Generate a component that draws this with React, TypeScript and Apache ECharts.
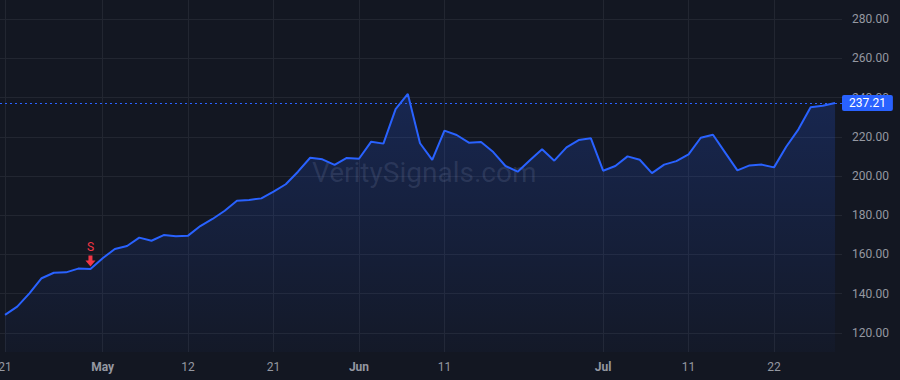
import React, { useEffect, useRef } from "react";
import * as echarts from "echarts";

const dates: string[] = [
  "2025-04-21", "2025-04-22", "2025-04-23", "2025-04-24", "2025-04-25", "2025-04-28", "2025-04-29", "2025-04-30",
  "2025-05-01", "2025-05-02", "2025-05-05", "2025-05-06", "2025-05-07", "2025-05-08", "2025-05-09",
  "2025-05-12", "2025-05-13", "2025-05-14", "2025-05-15", "2025-05-16",
  "2025-05-19", "2025-05-20", "2025-05-21", "2025-05-22", "2025-05-23",
  "2025-05-27", "2025-05-28", "2025-05-29", "2025-05-30",
  "2025-06-02", "2025-06-03", "2025-06-04", "2025-06-05", "2025-06-06",
  "2025-06-09", "2025-06-10", "2025-06-11", "2025-06-12", "2025-06-13",
  "2025-06-16", "2025-06-17", "2025-06-18", "2025-06-20",
  "2025-06-23", "2025-06-24", "2025-06-25", "2025-06-26", "2025-06-27", "2025-06-30",
  "2025-07-01", "2025-07-02", "2025-07-03",
  "2025-07-07", "2025-07-08", "2025-07-09", "2025-07-10", "2025-07-11",
  "2025-07-14", "2025-07-15", "2025-07-16", "2025-07-17", "2025-07-18",
  "2025-07-21", "2025-07-22", "2025-07-23", "2025-07-24", "2025-07-25",
  "2025-07-28", "2025-07-29",
];

const prices: number[] = [
  129.2, 133.4, 140.2, 147.9, 150.7, 150.9, 152.8, 152.6,
  158.1, 162.8, 164.3, 168.6, 167.0, 169.9, 169.3,
  169.6, 174.5, 178.1, 182.3, 187.4,
  187.8, 188.6, 192.0, 195.8, 202.2,
  209.3, 208.5, 205.7, 209.2,
  208.8, 217.5, 216.5, 234.1, 241.8,
  216.7, 208.2, 223.1, 220.9, 217.0,
  217.3, 212.2, 205.1, 202.2,
  208.0, 213.6, 207.8, 214.6, 218.3, 219.2,
  202.7, 205.1, 210.0,
  208.3, 201.5, 205.8, 207.6, 211.0,
  219.5, 221.0, 211.9, 202.9, 205.4,
  205.8, 204.4, 214.9, 223.8, 235.0,
  235.8, 237.21,
];

const xTickIndices: number[] = [0, 8, 15, 22, 29, 36, 49, 56, 63];
const xTickLabels: string[] = ["21", "May", "12", "21", "Jun", "11", "Jul", "11", "22"];
const monthLabels: string[] = ["May", "Jun", "Jul"];
const yTicks: number[] = [120, 140, 160, 180, 200, 220, 240, 260, 280];

const lastPrice = 237.21;
const signalIndex = 7;
const signalLabel = "S";
const watermark = "VeritySignals.com";

const FONT = "Roboto, 'Liberation Sans', Arial, sans-serif";
const BG = "#131722";
const GRID = "#222631";
const TEXT = "#9598A1";
const BLUE = "#2962FF";
const RED = "#F23645";

export default function App() {
  const ref = useRef<HTMLDivElement>(null);

  useEffect(() => {
    if (!ref.current) return;
    const chart = echarts.init(ref.current, undefined, { renderer: "svg" });
    const seriesData = prices.map((v, i) => [i, v]);

    chart.setOption({
      animation: false,
      backgroundColor: BG,
      textStyle: { fontFamily: FONT },
      grid: {
        left: 0,
        right: 58,
        top: 0,
        bottom: 28,
        containLabel: false,
        outerBoundsMode: "none",
      },
      graphic: [
        {
          type: "text",
          left: 312,
          top: 158,
          z: 1,
          style: {
            text: watermark,
            fill: "rgba(170,175,190,0.16)",
            font: `28px ${FONT}`,
          },
        },
      ],
      xAxis: {
        type: "value",
        min: -0.41,
        max: 68.57,
        axisLine: { show: false },
        axisTick: { show: false, customValues: xTickIndices },
        splitLine: { show: true, lineStyle: { color: GRID, width: 1 } },
        axisLabel: {
          customValues: xTickIndices,
          margin: 9,
          color: TEXT,
          fontSize: 12,
          fontFamily: FONT,
          hideOverlap: false,
          formatter: (val: number) => {
            const k = xTickIndices.indexOf(Math.round(val));
            const s = k >= 0 ? xTickLabels[k] : "";
            return monthLabels.includes(s) ? `{b|${s}}` : s;
          },
          rich: {
            b: { fontWeight: "bold", color: TEXT, fontSize: 12, fontFamily: FONT },
          },
        },
      },
      yAxis: {
        type: "value",
        position: "right",
        min: 110.3,
        max: 289.7,
        axisLine: { show: false },
        axisTick: { show: false, customValues: yTicks },
        splitLine: { show: true, lineStyle: { color: GRID, width: 1 } },
        axisLabel: {
          customValues: yTicks,
          margin: 10,
          color: TEXT,
          fontSize: 12,
          fontFamily: FONT,
          formatter: (v: number) => v.toFixed(2),
        },
      },
      series: [
        {
          type: "line",
          data: seriesData,
          z: 3,
          symbol: "none",
          lineStyle: { color: BLUE, width: 2 },
          areaStyle: {
            origin: "start",
            color: new echarts.graphic.LinearGradient(0, 0, 0, 1, [
              { offset: 0, color: "rgba(41,98,255,0.30)" },
              { offset: 1, color: "rgba(41,98,255,0.04)" },
            ]),
          },
          markLine: {
            silent: true,
            symbol: "none",
            lineStyle: { color: BLUE, type: [2, 3], width: 1 },
            data: [
              {
                yAxis: lastPrice,
                label: {
                  show: true,
                  position: "end",
                  distance: 0,
                  formatter: lastPrice.toFixed(2),
                  color: "#FFFFFF",
                  backgroundColor: BLUE,
                  fontSize: 12,
                  fontFamily: FONT,
                  lineHeight: 14,
                  padding: [1, 7],
                  borderRadius: 2,
                },
              },
            ],
          },
          markPoint: {
            silent: true,
            data: [
              {
                coord: [signalIndex, prices[signalIndex]],
                symbol: "path://M3,0 L7,0 L7,5 L10,5 L5,11 L0,5 L3,5 Z",
                symbolSize: [10, 11],
                symbolOffset: [0, -8],
                itemStyle: { color: RED },
                label: {
                  show: true,
                  position: "top",
                  distance: 3,
                  formatter: signalLabel,
                  color: RED,
                  fontSize: 12,
                  fontFamily: FONT,
                },
              },
            ],
          },
        },
      ],
    });

    return () => chart.dispose();
  }, []);

  return (
    <div
      ref={ref}
      style={{ position: "fixed", left: 0, top: 0, width: 900, height: 380 }}
    />
  );
}
